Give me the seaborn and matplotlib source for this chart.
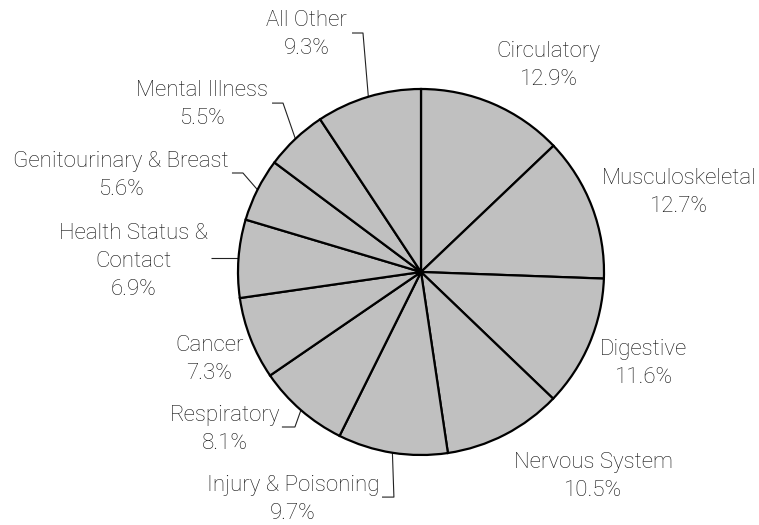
import numpy as np
import matplotlib
matplotlib.use("Agg")
import matplotlib.pyplot as plt
import seaborn as sns

sns.set_style("white")
plt.rcParams["font.family"] = ["Roboto", "DejaVu Sans"]

categories = ["Circulatory", "Musculoskeletal", "Digestive", "Nervous System",
              "Injury & Poisoning", "Respiratory", "Cancer",
              "Health Status &\nContact", "Genitourinary & Breast",
              "Mental Illness", "All Other"]
shares = [12.9, 12.7, 11.6, 10.5, 9.7, 8.1, 7.3, 6.9, 5.6, 5.5, 9.3]

# label block centres (data units, pie radius = 1)
label_pos = [(0.697, 1.127), (1.410, 0.433), (1.216, -0.499), (0.940, -1.119),
             (-0.699, -1.242), (-1.071, -0.859), (-1.156, -0.477),
             (-1.571, 0.059), (-1.639, 0.526), (-1.199, 0.914), (-0.626, 1.296)]
# leader lines: (elbow, end) or None; elbow None -> straight horizontal
leaders = [None, None, None, None,
           ((-0.148, -1.230), (-0.213, -1.230)),
           ((-0.689, -0.847), (-0.760, -0.847)),
           None,
           (None, (-1.148, 0.077)),
           ((-0.973, 0.541), (-1.033, 0.541)),
           ((-0.754, 0.923), (-0.814, 0.923)),
           ((-0.317, 1.306), (-0.377, 1.306))]

fig = plt.figure(figsize=(7.59, 5.25), dpi=100)
ax = fig.add_axes([0, 0, 1, 1])
r_px = 183.0
cx, cy = 421.0, 272.0

wedges, _ = ax.pie(shares, startangle=90, counterclock=False, radius=1.0,
                   colors=["#c0c0c0"] * len(shares),
                   wedgeprops=dict(edgecolor="black", linewidth=1.6))
ax.set_xlim(-cx / r_px, (759 - cx) / r_px)
ax.set_ylim(-(525 - cy) / r_px, cy / r_px)
ax.set_aspect("equal")
ax.axis("off")

for w, cat, val, pos, ld in zip(wedges, categories, shares, label_pos, leaders):
    ax.text(pos[0], pos[1], f"{cat}\n{val}%", ha="center", va="center",
            fontsize=16, fontweight="light", color="#111111", linespacing=1.45)
    if ld is not None:
        mid = np.deg2rad((w.theta1 + w.theta2) / 2)
        edge = (np.cos(mid), np.sin(mid))
        elbow, end = ld
        if elbow is None:
            elbow = (edge[0], end[1])
        ax.plot([edge[0], elbow[0], end[0]], [edge[1], elbow[1], end[1]],
                color="#222222", linewidth=0.8, solid_capstyle="butt", zorder=0)

fig.savefig("out.png", dpi=100)
